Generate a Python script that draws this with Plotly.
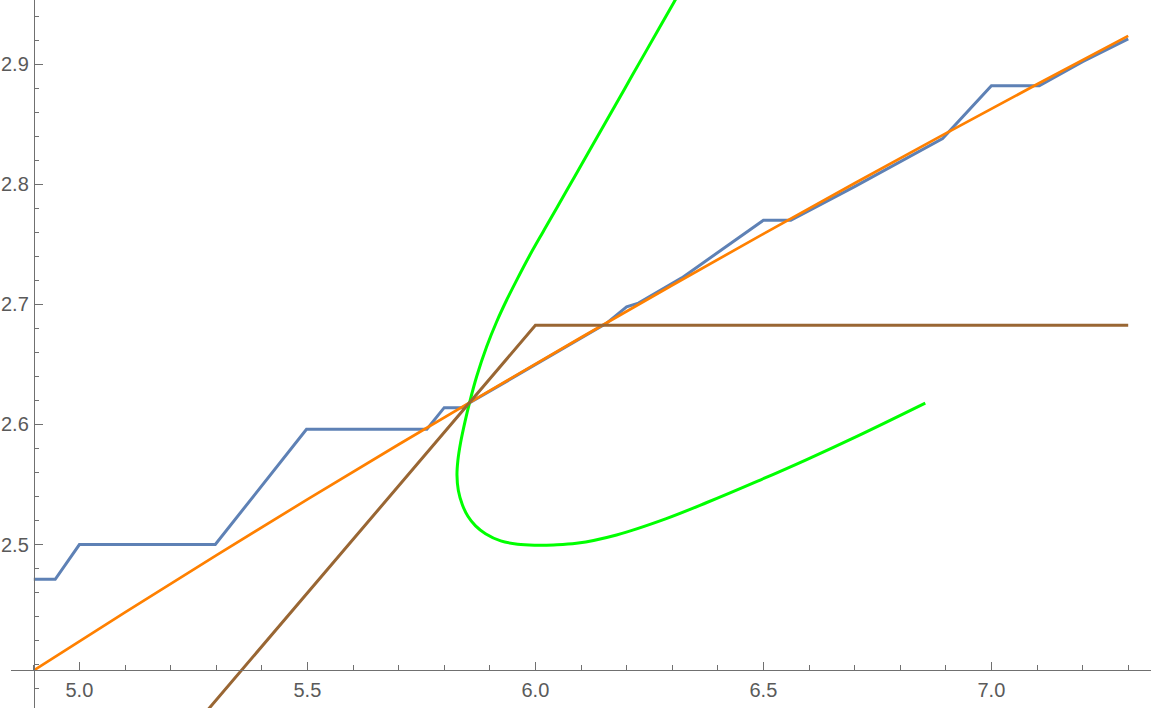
import plotly.graph_objects as go

# ---- data ----
blue_x = [4.900, 4.947, 5.000, 5.298, 5.498, 5.762, 5.800, 5.841, 5.856, 6.000, 6.155,
          6.200, 6.226, 6.321, 6.500, 6.560, 6.700, 6.893, 7.000, 7.105, 7.200, 7.300]
blue_y = [2.471, 2.471, 2.500, 2.500, 2.596, 2.596, 2.614, 2.614, 2.618, 2.650, 2.684,
          2.698, 2.701, 2.722, 2.770, 2.770, 2.798, 2.838, 2.882, 2.882, 2.902, 2.921]

orange_x = [4.9, 5.1, 5.3, 5.5, 5.7, 5.9, 6.1, 6.3, 6.5, 6.7, 6.9, 7.1, 7.3]
orange_y = [2.3952, 2.4436, 2.4910, 2.5376, 2.5833, 2.6282, 2.6724, 2.7159, 2.7587,
            2.8008, 2.8423, 2.8832, 2.9235]

green_x = [6.339, 6.3045, 6.2415, 6.1965, 6.1515, 6.1065, 6.0765, 6.0465, 6.017, 5.988,
           5.959, 5.937, 5.915, 5.893, 5.871, 5.8555, 5.846, 5.836, 5.830, 5.828, 5.831,
           5.840, 5.852, 5.8687, 5.8905, 5.924, 5.961, 5.998, 6.040, 6.090, 6.178, 6.287,
           6.376, 6.486, 6.595, 6.705, 6.855]
green_y = [2.975, 2.952, 2.910, 2.880, 2.850, 2.820, 2.800, 2.780, 2.7605, 2.7411,
           2.7202, 2.7036, 2.6855, 2.6647, 2.6397, 2.618, 2.603, 2.585, 2.570, 2.558, 2.545,
           2.533, 2.5235, 2.5155, 2.509, 2.503, 2.5003, 2.4995, 2.4997, 2.501, 2.508, 2.5216,
           2.5350, 2.5526, 2.5708, 2.5901, 2.6178]

brown_x = [5.2, 6.0, 7.3]
brown_y = [2.326, 2.6825, 2.6825]

x_ticks = [5.0, 5.5, 6.0, 6.5, 7.0]
x_ticktext = ["5.0", "5.5", "6.0", "6.5", "7.0"]
y_ticks = [2.5, 2.6, 2.7, 2.8, 2.9]
y_ticktext = ["2.5", "2.6", "2.7", "2.8", "2.9"]

X_RANGE = [4.85, 7.35]
Y_RANGE = [2.3639, 2.9534]
X_ORIGIN = 4.9
Y_ORIGIN = 2.3956

fig = go.Figure()
fig.add_trace(go.Scatter(x=blue_x, y=blue_y, mode="lines",
                         line=dict(color="#5E81B5", width=3)))
fig.add_trace(go.Scatter(x=orange_x, y=orange_y, mode="lines",
                         line=dict(color="#FF8000", width=2.7, shape="spline")))
fig.add_trace(go.Scatter(x=green_x, y=green_y, mode="lines",
                         line=dict(color="#00FF00", width=3, shape="spline", smoothing=1.0)))
fig.add_trace(go.Scatter(x=brown_x, y=brown_y, mode="lines",
                         line=dict(color="#996633", width=3)))

axis_col = "#707070"
font = dict(family="Liberation Sans, Arial, sans-serif", size=20, color="#5a5a5a")

fig.update_layout(
    width=1154, height=708,
    margin=dict(l=11, r=3, t=0, b=0),
    plot_bgcolor="white", paper_bgcolor="white",
    showlegend=False,
    xaxis=dict(
        range=X_RANGE, showgrid=False, zeroline=False,
        showline=True, linecolor=axis_col, linewidth=1,
        anchor="free",
        position=(Y_ORIGIN - Y_RANGE[0]) / (Y_RANGE[1] - Y_RANGE[0]),
        ticks="inside", ticklen=8, tickwidth=1, tickcolor=axis_col,
        tickmode="array", tickvals=x_ticks, ticktext=x_ticktext,
        tickfont=font, automargin=False, ticklabelstandoff=2,
        minor=dict(dtick=0.1, tick0=4.9, ticks="inside", ticklen=5,
                   tickwidth=1, tickcolor=axis_col, showgrid=False),
    ),
    yaxis=dict(
        range=Y_RANGE, showgrid=False, zeroline=False,
        showline=True, linecolor=axis_col, linewidth=1,
        anchor="free",
        position=(X_ORIGIN - X_RANGE[0]) / (X_RANGE[1] - X_RANGE[0]),
        side="left",
        ticks="inside", ticklen=8, tickwidth=1, tickcolor=axis_col,
        tickmode="array", tickvals=y_ticks, ticktext=y_ticktext,
        tickfont=font, automargin=False, ticklabelstandoff=1,
        minor=dict(dtick=0.02, tick0=2.4, ticks="inside", ticklen=4.5,
                   tickwidth=1, tickcolor=axis_col, showgrid=False),
    ),
)

fig.write_html("out.html", config={"displayModeBar": False},
               post_script="document.body.style.margin='0';")
